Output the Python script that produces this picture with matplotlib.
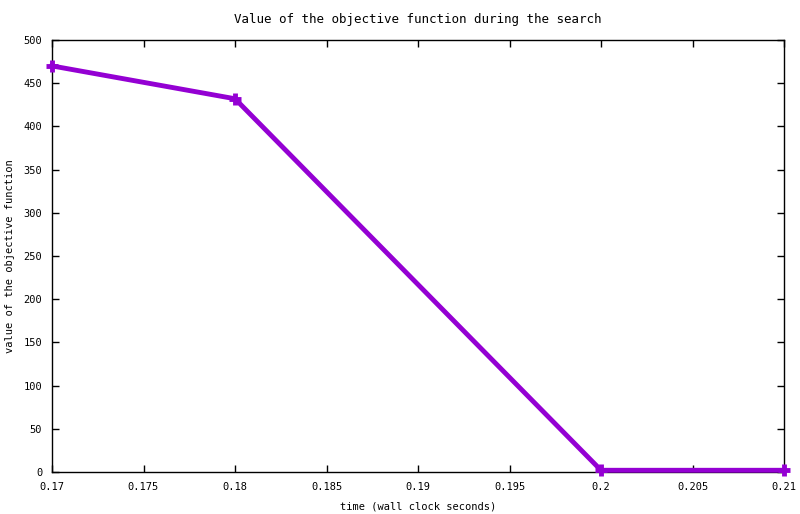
import matplotlib
matplotlib.use("Agg")
import matplotlib.pyplot as plt

# data
times = [0.17, 0.18, 0.2, 0.21]
values = [470, 432, 2, 2]
xticks = [0.17, 0.175, 0.18, 0.185, 0.19, 0.195, 0.2, 0.205, 0.21]
xlabels = ["0.17", "0.175", "0.18", "0.185", "0.19", "0.195", "0.2", "0.205", "0.21"]
yticks = list(range(0, 501, 50))

plt.rcParams['font.family'] = ['DejaVu Sans Mono']
plt.rcParams['font.size'] = 7.5

fig = plt.figure(figsize=(8.0, 5.14), dpi=100)
ax = fig.add_axes([52 / 800, 1 - 472 / 514, 732 / 800, 432 / 514])

ax.plot(times, values, color='#9400d3', linewidth=3.5, marker='+',
        markersize=8, markeredgewidth=3.5, solid_joinstyle='miter',
        clip_on=False, zorder=3)

ax.set_xlim(0.17, 0.21)
ax.set_ylim(0, 500)
ax.set_xticks(xticks)
ax.set_xticklabels(xlabels)
ax.set_yticks(yticks)
ax.tick_params(direction='in', top=True, right=True, length=5, width=1, pad=7)
for s in ax.spines.values():
    s.set_linewidth(1)

ax.set_title("Value of the objective function during the search", pad=12)
ax.set_xlabel("time (wall clock seconds)", labelpad=7)
# y label placed by hand so it stays inside the figure
fig.text(10 / 800, 1 - 256 / 514, "value of the objective function",
         rotation=90, ha='center', va='center')

fig.savefig("out.png", dpi=100)
